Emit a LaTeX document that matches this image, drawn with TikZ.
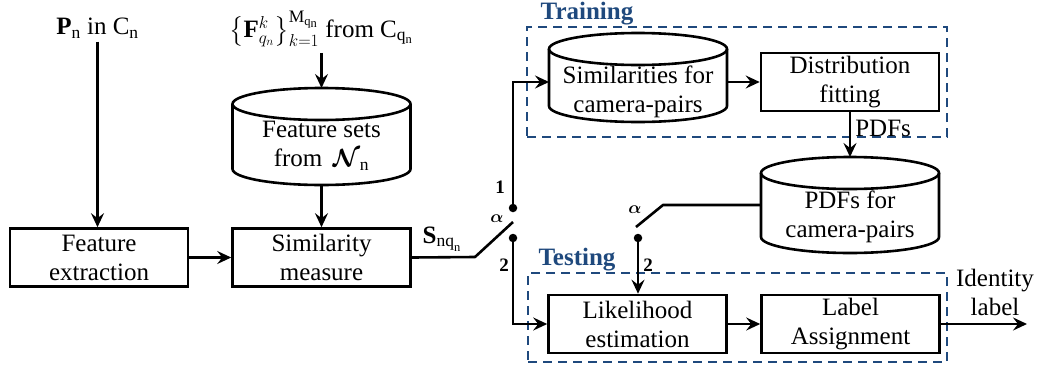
\documentclass[tikz,border=0pt]{standalone}
\usepackage{amsmath}
\usepackage{fontspec}
\setmainfont{Liberation Serif}
\usetikzlibrary{arrows.meta}
\definecolor{grpblue}{RGB}{31,73,125}

% outline of a drum (database) around a named, borderless node
\newcommand\drawdrum[1]{%
  \draw[drumline] ([yshift=-16pt]#1.north) ellipse[x radius=89pt, y radius=16pt];
  \draw[drumline] ([yshift=-16pt]#1.north west) -- ([yshift=16pt]#1.south west)
    arc[start angle=180, end angle=360, x radius=89pt, y radius=16pt]
    -- ([yshift=-16pt]#1.north east);}

\begin{document}
\begin{tikzpicture}[x=1pt, y=1pt,
  font=\fontsize{25}{29}\selectfont,
  box/.style={draw, line width=2.6pt, minimum width=178pt, minimum height=58pt,
    inner sep=0pt, align=center},
  drumshape/.style={minimum width=178pt, inner sep=0pt, outer sep=0pt},
  drumline/.style={line width=2.6pt},
  txt/.style={align=center, inner sep=0pt},
  arr/.style={line width=2.6pt, -{Stealth[length=14pt, width=13pt, inset=5pt]}},
  wire/.style={line width=2.6pt},
  dot/.style={circle, fill, inner sep=0pt, minimum size=8.5pt},
  swlabel/.style={font=\fontsize{19}{21}\selectfont\bfseries, inner sep=0pt},
  grp/.style={draw=grpblue, line width=2pt, dash pattern=on 9pt off 6pt,
    inner sep=0pt},
  grptitle/.style={text=grpblue, font=\fontsize{25}{28}\selectfont\bfseries,
    inner sep=0pt}]

\useasboundingbox (0,0) rectangle (1040,-367);

% group frames
\node[grp, minimum width=420pt, minimum height=110pt] (train) at (737,-82) {};
\node[grptitle] (train-t) at (587,-14) {Training};
\node[grp, minimum width=419pt, minimum height=89pt] (test) at (737.5,-317.5) {};
\node[grptitle] (test-t) at (577,-260) {Testing};

% inputs
\node (pn) at (97.5,-28) {\textbf{P}$_{\mathrm{n}}$ in C$_{\mathrm{n}}$};
\node[inner sep=0pt] (ff) at (321,-29) {$\bigl\{\mathbf{F}^{k}_{q_n}\bigr\}^{\mathrm{M}_{\mathrm{q}_{\mathrm{n}}}}_{k=1}$ from C$_{\mathrm{q}_{\mathrm{n}}}$};

% processing boxes
\node[box] (fe) at (99,-257.5) {Feature\\extraction};
\node[box] (sm) at (321.5,-257.5) {Similarity\\measure};
\node[box] (df) at (850,-82) {Distribution\\fitting};
\node[box] (lik) at (637.5,-324) {Likelihood\\estimation};
\node[box] (la) at (850.5,-324) {Label\\Assignment};

% drums
\node[drumshape, minimum height=97pt] (fs) at (321.5,-136.5) {};
\drawdrum{fs}
\node[txt] (fs-t) at (321.5,-146) {Feature sets\\from \,$\boldsymbol{\mathcal{N}}_{\mathrm{n}}$};

\node[drumshape, minimum height=89pt] (sim) at (638,-77.5) {};
\drawdrum{sim}
\node[txt] (sim-t) at (638,-92) {Similarities for\\camera-pairs};

\node[drumshape, minimum height=96pt] (pdf) at (850,-205) {};
\drawdrum{pdf}
\node[txt] (pdf-t) at (850,-217) {PDFs for\\camera-pairs};

% switch contacts
\coordinate (s1bend) at (475,-257);
\coordinate (s1tip) at (513,-222);
\node[dot] (d1) at (513,-208) {};
\node[dot] (d2) at (513,-238) {};
\coordinate (s2bend) at (663,-205);
\coordinate (s2tip) at (636,-227);
\node[dot] (d3) at (638,-238) {};
\coordinate (out) at (1027,-324);

% switch labels
\node[swlabel] (a1) at (497,-219) {$\boldsymbol{\alpha}$};
\node[swlabel] (n1) at (500,-187) {1};
\node[swlabel] (n2) at (504,-265) {2};
\node[swlabel] (a2) at (635,-210) {$\boldsymbol{\alpha}$};
\node[swlabel] (n3) at (648,-265) {2};
\node[inner sep=0pt] (sl) at (442,-239) {\textbf{S}$_{\mathrm{nq}_{\mathrm{n}}}$};

% connectors
\draw[arr] (pn.south) -- (pn.south |- fe.north);
\draw[arr] ([yshift=-6pt]ff.south -| fs.north) -- (fs.north);
\draw[arr] (fs.south) -- (sm.north);
\draw[arr] (fe.east) -- (sm.west);
\draw[wire, line join=round] (sm.east) -- (s1bend) -- (s1tip);
\draw[arr] (d1.center) |- (sim.west |- df.west);
\draw[arr] (sim.east |- df.west) -- (df.west);
\draw[arr] (df.south) -- node[right, inner sep=4pt, pos=0.35] (pdfs-l) {PDFs} (pdf.north);
\draw[arr] (d2.center) |- (lik.west);
\draw[wire, line join=round] (pdf.west) -- (s2bend) -- (s2tip);
\draw[arr] (d3.center) -- (d3 |- lik.north);
\draw[arr] (lik.east) -- (la.west);
\draw[arr] (la.east) -- (out);
\node[txt] (id) at (995,-292) {Identity\\label};

\end{tikzpicture}
\end{document}
